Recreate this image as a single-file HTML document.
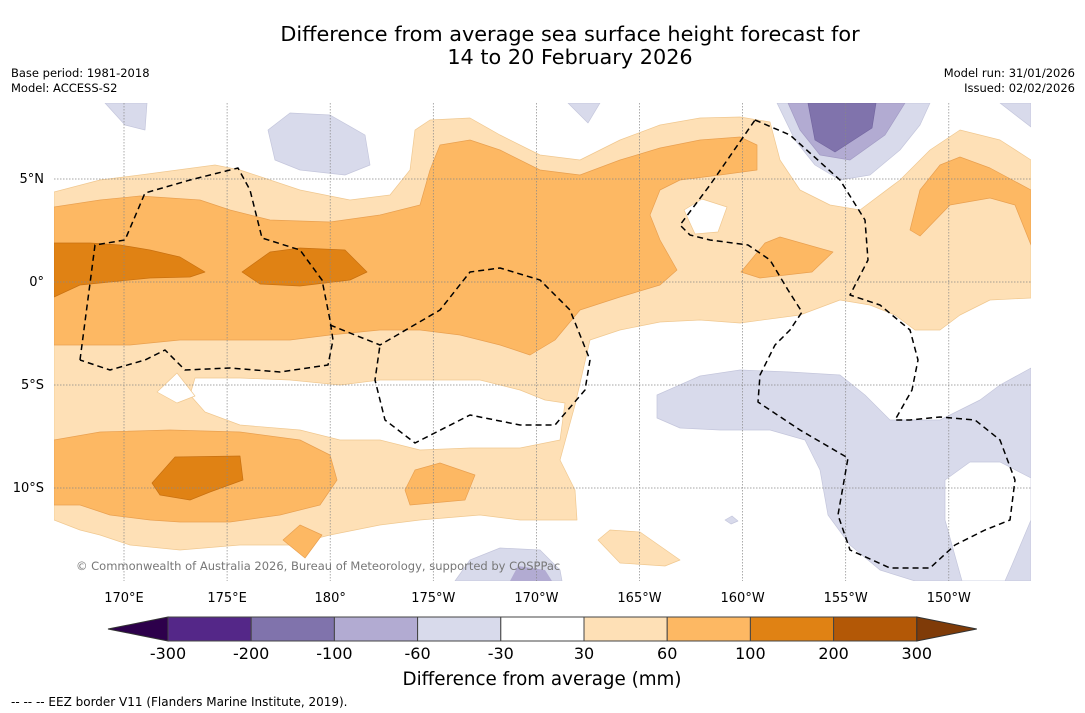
<!DOCTYPE html>
<html><head><meta charset="utf-8">
<style>
body{margin:0;background:#fff;width:1085px;height:713px;overflow:hidden;font-family:"DejaVu Sans","Liberation Sans",sans-serif;}
svg{display:block}
</style></head>
<body>
<svg width="1085" height="713" viewBox="0 0 1085 713" xmlns="http://www.w3.org/2000/svg" font-family="DejaVu Sans, Liberation Sans, sans-serif">
<rect width="1085" height="713" fill="#fff"/>
<text x="570" y="41" text-anchor="middle" font-size="20.8">Difference from average sea surface height forecast for</text>
<text x="570" y="64" text-anchor="middle" font-size="20.8">14 to 20 February 2026</text>
<text x="11" y="77" font-size="11.5">Base period: 1981-2018</text>
<text x="11" y="92" font-size="11.5">Model: ACCESS-S2</text>
<text x="1075" y="77" font-size="11.5" text-anchor="end">Model run: 31/01/2026</text>
<text x="1075" y="92" font-size="11.5" text-anchor="end">Issued: 02/02/2026</text>

<defs><clipPath id="mc"><rect x="54" y="103" width="977" height="478"/></clipPath></defs>
<g clip-path="url(#mc)" stroke-linejoin="round">
<path fill="#fee0b6" stroke="#f0c890" stroke-width="0.7" d="M54,192 L100,180 140,175 215,165 240,170 300,190 350,200 390,195 410,170 415,130 430,120 470,118 500,135 540,155 580,160 620,140 660,125 700,118 740,117 770,122 780,160 800,190 830,205 860,210 900,180 930,150 960,130 1000,140 1031,160 L1031,298 990,300 960,315 940,330 915,330 895,315 870,305 840,300 800,315 740,323 700,320 660,322 620,330 590,340 L575,405 560,460 575,490 577,520 520,520 480,515 420,520 380,525 330,535 290,545 240,545 180,550 130,545 100,535 80,530 54,520 Z"/>
<path fill="#fee0b6" stroke="#f0c890" stroke-width="0.7" d="M598,540 L610,530 640,532 680,560 665,566 620,563 Z"/>
<path fill="#fff" stroke="#f0c890" stroke-width="0.7" d="M195,378 L240,378 290,380 340,385 380,380 420,380 480,380 520,390 545,400 565,403 560,440 520,448 470,448 420,450 380,440 340,440 300,430 240,425 205,412 190,395 Z"/>
<path fill="#fff" stroke="#f0c890" stroke-width="0.7" d="M157,392 L177,373 195,396 177,403 Z"/>
<path fill="#fff" stroke="#f0c890" stroke-width="0.7" d="M684,210 L702,199 727,207 718,232 695,234 Z"/>
<g fill="#fdb863" stroke="#e9a050" stroke-width="0.7">
<path d="M54,207 L100,200 140,196 200,200 230,210 270,220 330,222 380,215 420,205 430,170 440,145 470,140 500,150 540,170 580,175 620,160 660,148 700,140 740,137 757,145 757,170 720,175 680,180 660,190 650,215 660,240 677,270 660,285 620,297 580,310 555,340 530,355 500,345 460,335 420,330 380,330 330,335 290,340 240,340 180,340 130,345 80,345 54,345 Z"/>
<path d="M910,230 L920,190 940,165 960,157 990,168 1031,190 1031,245 1015,205 990,198 950,205 920,236 Z"/>
<path d="M741,272 L765,243 780,237 833,252 812,272 760,278 Z"/>
<path d="M54,440 L100,432 170,430 240,432 300,440 330,455 337,480 320,505 280,515 230,522 180,522 150,520 110,515 80,505 54,505 Z"/>
<path d="M405,490 L415,470 440,463 475,475 465,500 410,505 Z"/>
<path d="M283,540 L300,525 322,535 305,558 Z"/>
</g>
<g fill="#e08214" stroke="#c87010" stroke-width="0.7">
<path d="M54,243 L90,243 120,245 150,250 180,257 205,272 190,277 150,278 110,282 80,285 54,297 Z"/>
<path d="M242,272 L270,252 300,248 345,250 367,272 350,280 300,286 260,284 Z"/>
<path d="M152,483 L175,457 240,456 243,480 210,492 190,500 160,495 Z"/>
</g>
<g fill="#d8daeb" stroke="#c4c6dc" stroke-width="0.7">
<path d="M268,130 L290,113 330,115 365,135 370,165 345,175 300,170 275,160 Z"/>
<path d="M568,103 L600,103 588,123 Z"/>
<path d="M105,103 L147,103 145,130 125,125 Z"/>
<path d="M777,103 L930,103 920,125 900,150 870,175 840,180 815,165 795,140 Z"/>
<path d="M1000,103 L1031,103 1031,127 Z"/>
<path d="M657,395 L700,376 740,370 790,372 840,375 865,395 890,420 940,420 980,400 1000,385 1031,368 L1031,581 915,581 880,570 850,545 828,515 820,470 805,440 770,430 720,430 680,428 657,418 Z"/>
<path d="M455,581 L470,560 500,548 540,550 560,570 562,581 Z"/>
<path d="M725,520 L732,516 738,521 731,524 Z"/>
</g>
<path fill="#fff" stroke="#c4c6dc" stroke-width="0.7" d="M945,480 L970,462 1000,462 1031,478 1031,520 1012,565 1005,581 962,581 945,520 Z"/>
<path fill="#b2abd2" stroke="#a29bc4" stroke-width="0.7" d="M788,103 L905,103 885,135 850,160 820,155 800,130 Z"/>
<path fill="#b2abd2" d="M510,581 L518,566 545,570 552,581 Z"/>
<path fill="#8073ac" stroke="#7366a0" stroke-width="0.7" d="M808,103 L876,103 872,128 835,152 815,140 Z"/>
<g stroke="#888" stroke-width="0.7" stroke-dasharray="1.5,1.5" id="grid"></g>
<g fill="none" stroke="#000" stroke-width="1.5" stroke-dasharray="6,4">
<path d="M80,360 L95,245 125,240 145,193 190,180 238,168 250,190 262,238 300,250 322,280 330,320 333,340 328,365 280,372 230,368 185,370 165,350 145,360 110,370 80,360"/>
<path d="M330,325 L380,345 440,310 470,272 500,268 540,280 570,310 590,360 585,390 555,425 520,425 470,415 415,443 385,420 375,380 380,345"/>
<path d="M755,120 L790,135 840,180 865,220 868,260 850,295 880,305 910,330 918,360 912,390 895,420 910,420 940,417 975,420 1000,440 1015,480 1010,520 985,530 955,545 930,568 890,568 850,550 838,515 848,458 800,430 758,402 760,375 775,345 790,330 802,312 788,290 770,260 748,245 710,240 690,235 680,225 710,185 755,120"/>
</g>
<text x="76" y="570" font-size="11.5" fill="#777">© Commonwealth of Australia 2026, Bureau of Meteorology, supported by COSPPac</text>
</g>
<g id="axislabels" font-size="13"></g>
<g id="cbar"></g>
<text x="542" y="685" text-anchor="middle" font-size="18.3">Difference from average (mm)</text>
<text x="11" y="706" font-size="12">-- -- -- EEZ border V11 (Flanders Marine Institute, 2019).</text>
</svg>
<script>
const lonLabels=["170°E","175°E","180°","175°W","170°W","165°W","160°W","155°W","150°W"];
const latLabels=["5°N","0°","5°S","10°S"];
const latValues=[5,0,-5,-10];
const cbLevels=["-300","-200","-100","-60","-30","30","60","100","200","300"];
const cbColors=["#542788","#8073ac","#b2abd2","#d8daeb","#ffffff","#fee0b6","#fdb863","#e08214","#b35806"];
const NS="http://www.w3.org/2000/svg";
const lonX=i=>124+i*103.1;
const latY=v=>282-v*20.6;
const grid=document.getElementById('grid');
const al=document.getElementById('axislabels');
function mk(t,a,p){const e=document.createElementNS(NS,t);for(const k in a)e.setAttribute(k,a[k]);p.appendChild(e);return e;}
lonLabels.forEach((l,i)=>{
 const ln=mk('line',{x1:lonX(i),x2:lonX(i),y1:103,y2:581},grid);
 
 
 const t=mk('text',{x:lonX(i),y:602,'text-anchor':'middle'},al);t.textContent=l;
 
 
});
latValues.forEach((v,i)=>{
 const ln=mk('line',{x1:54,x2:1031,y1:latY(v),y2:latY(v)},grid);
 
 
 const t=mk('text',{x:44,y:latY(v)+4,'text-anchor':'end'},al);t.textContent=latLabels[i];
 
 
});
const cb=document.getElementById('cbar');
const x0=168,w=83.2,y0=617,h=24;
let tri=mk('polygon',{points:`108,629 ${x0},${y0} ${x0},${y0+h}`,fill:'#2d004b',stroke:'#333','stroke-width':1},cb);


cbColors.forEach((c,i)=>{
 const r=mk('rect',{x:x0+i*w,y:y0,width:w,height:h,fill:c,stroke:'#444','stroke-width':1},cb);
 
 
});
const xe=x0+cbColors.length*w;
tri=mk('polygon',{points:`${xe},${y0} ${xe+60},629 ${xe},${y0+h}`,fill:'#7f3b08',stroke:'#333','stroke-width':1},cb);


cbLevels.forEach((l,i)=>{
 const t=mk('text',{x:x0+i*w,y:659,'text-anchor':'middle','font-size':16},cb);t.textContent=l;
 
 
});
</script>
</body></html>
